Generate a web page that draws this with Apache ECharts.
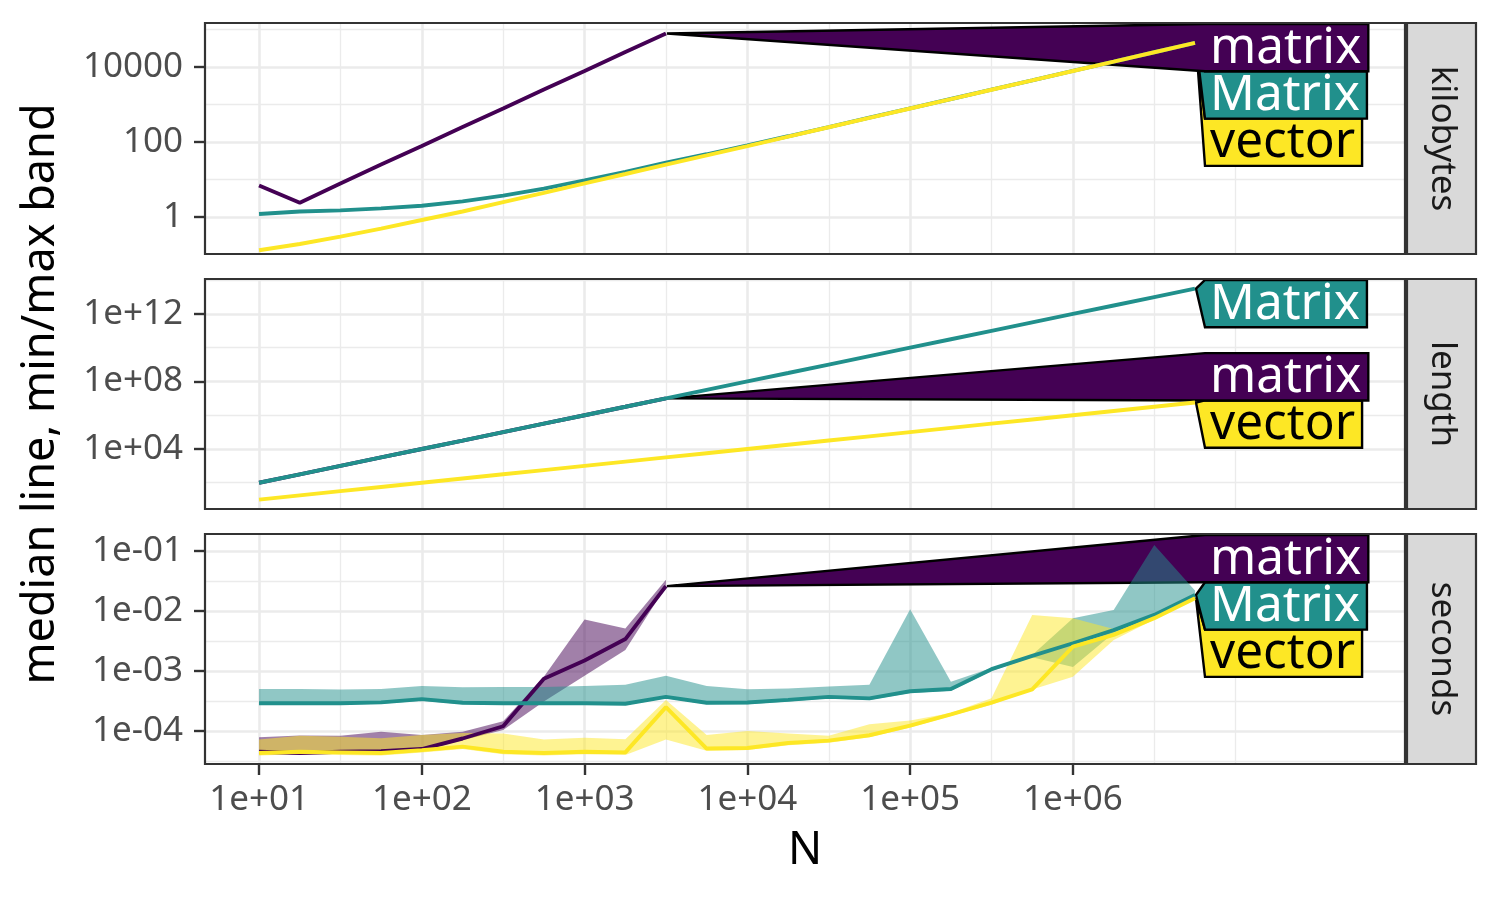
<!DOCTYPE html>
<html><head><meta charset="utf-8">
<script src="https://cdn.jsdelivr.net/npm/echarts@6.0.0/dist/echarts.min.js"></script>
<style>html,body{margin:0;padding:0;background:#fff}#c{width:1500px;height:900px}</style>
</head><body><div id="c"></div>
<script>
// ---------------- data ----------------
const N = [10, 17.8, 31.6, 56.2, 100, 178, 316, 562, 1000, 1780, 3160, 5620, 10000, 17800, 31600, 56200, 100000, 178000, 316000, 562000, 1000000, 1780000, 3160000, 5620000];
const seriesNames = ['matrix', 'Matrix', 'vector'];
const panelNames = ['kilobytes', 'length', 'seconds'];

// kilobytes
const kilobytes_matrix = [6.9, 2.4, 7.8, 25, 78, 250, 780, 2500, 7800, 25000, 78000];
const kilobytes_Matrix = [1.2, 1.4, 1.5, 1.7, 2.0, 2.6, 3.7, 5.7, 9.5, 16, 28, 47, 81, 142, 250, 445, 790, 1400, 2480, 4400, 7830, 13920, 24720, 43920];
const kilobytes_vector = [0.13, 0.19, 0.3, 0.49, 0.83, 1.4, 2.5, 4.4, 7.9, 14, 25, 44, 78, 139, 247, 440, 781, 1390, 2470, 4390, 7810, 13900, 24700, 43900];

// length
const length_matrix = [100, 316, 1000, 3160, 10000, 31600, 100000, 316000, 1000000, 3160000, 10000000];
const length_Matrix = [100, 316, 1000, 3160, 1e4, 3.16e4, 1e5, 3.16e5, 1e6, 3.16e6, 1e7, 3.16e7, 1e8, 3.16e8, 1e9, 3.16e9, 1e10, 3.16e10, 1e11, 3.16e11, 1e12, 3.16e12, 1e13, 3.16e13];
const length_vector = [10, 17.8, 31.6, 56.2, 100, 178, 316, 562, 1000, 1780, 3160, 5620, 10000, 17800, 31600, 56200, 100000, 178000, 316000, 562000, 1000000, 1780000, 3160000, 5620000];

// seconds: median, min, max
const seconds_matrix_median = [4.5e-5, 4.3e-5, 4.5e-5, 4.6e-5, 5.0e-5, 7.5e-5, 1.2e-4, 7.4e-4, 1.5e-3, 3.4e-3, 2.6e-2];
const seconds_matrix_min    = [4.2e-5, 4.1e-5, 4.2e-5, 4.3e-5, 4.7e-5, 7.0e-5, 1.04e-4, 3.1e-4, 8.3e-4, 2.24e-3, 2.55e-2];
const seconds_matrix_max    = [7.9e-5, 8.4e-5, 8.3e-5, 9.7e-5, 8.6e-5, 9.7e-5, 1.45e-4, 8.0e-4, 7.2e-3, 5.1e-3, 3.3e-2];

const seconds_Matrix_median = [2.9e-4, 2.9e-4, 2.9e-4, 3.0e-4, 3.4e-4, 2.95e-4, 2.9e-4, 2.9e-4, 2.9e-4, 2.85e-4, 3.7e-4, 2.96e-4, 2.98e-4, 3.3e-4, 3.7e-4, 3.5e-4, 4.6e-4, 5.0e-4, 1.07e-3, 1.78e-3, 2.9e-3, 4.8e-3, 8.6e-3, 1.85e-2];
const seconds_Matrix_min    = [2.75e-4, 2.75e-4, 2.75e-4, 2.85e-4, 3.2e-4, 2.8e-4, 2.75e-4, 2.75e-4, 2.75e-4, 2.7e-4, 3.5e-4, 2.8e-4, 2.8e-4, 3.1e-4, 3.5e-4, 3.3e-4, 4.3e-4, 4.7e-4, 1.0e-3, 1.7e-3, 1.17e-3, 4.3e-3, 8.0e-3, 1.75e-2];
const seconds_Matrix_max    = [5.0e-4, 5.0e-4, 4.9e-4, 5.0e-4, 5.6e-4, 5.35e-4, 5.4e-4, 5.4e-4, 5.6e-4, 5.9e-4, 8.3e-4, 5.6e-4, 4.95e-4, 5.1e-4, 5.5e-4, 5.9e-4, 1.07e-2, 6.6e-4, 1.12e-3, 1.85e-3, 7.6e-3, 1.04e-2, 1.26e-1, 2.2e-2];

const seconds_vector_median = [4.3e-5, 4.5e-5, 4.4e-5, 4.3e-5, 4.8e-5, 5.5e-5, 4.5e-5, 4.3e-5, 4.5e-5, 4.4e-5, 2.5e-4, 5.1e-5, 5.2e-5, 6.3e-5, 6.9e-5, 8.5e-5, 1.23e-4, 1.9e-4, 2.96e-4, 4.95e-4, 2.54e-3, 4.0e-3, 7.6e-3, 1.63e-2];
const seconds_vector_min    = [3.9e-5, 4.1e-5, 4.0e-5, 3.9e-5, 4.4e-5, 5.0e-5, 4.1e-5, 3.9e-5, 4.1e-5, 4.0e-5, 7.2e-5, 4.7e-5, 4.8e-5, 5.8e-5, 6.4e-5, 7.9e-5, 1.14e-4, 1.77e-4, 2.75e-4, 4.9e-4, 8.0e-4, 3.3e-3, 7.2e-3, 1.55e-2];
const seconds_vector_max    = [7.2e-5, 8.3e-5, 8.0e-5, 7.6e-5, 8.6e-5, 9.3e-5, 9.1e-5, 7.2e-5, 7.7e-5, 7.3e-5, 3.3e-4, 8.6e-5, 1.0e-4, 9.1e-5, 8.3e-5, 1.3e-4, 1.5e-4, 2.0e-4, 3.5e-4, 8.6e-3, 7.6e-3, 5.0e-3, 8.4e-3, 1.75e-2];

// tick positions (log10 units) and labels
const xMajorTicks = [1, 2, 3, 4, 5, 6];
const xMinorTicks = [1.5, 2.5, 3.5, 4.5, 5.5, 6.5, 7];
const xTickLabels = ['1e+01', '1e+02', '1e+03', '1e+04', '1e+05', '1e+06'];
const yMajorTicks = [[0, 2, 4], [4, 8, 12], [-4, -3, -2, -1]];
const yMinorTicks = [[-1, 1, 3, 5], [2, 6, 10, 14], [-4.5, -3.5, -2.5, -1.5]];
const yTickLabels = [['1', '100', '10000'], ['1e+04', '1e+08', '1e+12'], ['1e-04', '1e-03', '1e-02', '1e-01']];

// ---------------- layout & style ----------------
const FONT = 'Noto Sans';
const PANEL_LEFT = 205, PANEL_RIGHT = 1405;
const PANELS = [{ top: 23, bottom: 254 }, { top: 279, bottom: 509 }, { top: 534, bottom: 764 }];
const X_RANGE = [0.668, 8.04];
const Y_RANGES = [[-0.987, 5.173], [0.444, 14.07], [-4.55, -0.717]];
const COLORS = { matrix: '#440154', Matrix: '#21908C', vector: '#FDE725' };
const BAND_COLORS = { matrix: 'rgba(68,1,84,0.5)', Matrix: 'rgba(33,144,140,0.5)', vector: 'rgba(253,231,37,0.5)' };
const LABEL_TEXT = { matrix: '#FFFFFF', Matrix: '#FFFFFF', vector: '#000000' };
const LINE_W = 3.9, MAJOR_GRID_W = 2.6, MINOR_GRID_W = 1.3;

const medians = [
  { matrix: kilobytes_matrix, Matrix: kilobytes_Matrix, vector: kilobytes_vector },
  { matrix: length_matrix, Matrix: length_Matrix, vector: length_vector },
  { matrix: seconds_matrix_median, Matrix: seconds_Matrix_median, vector: seconds_vector_median }
];
const bands = {
  matrix: [seconds_matrix_min, seconds_matrix_max],
  Matrix: [seconds_Matrix_min, seconds_Matrix_max],
  vector: [seconds_vector_min, seconds_vector_max]
};

const lg = Math.log10;
function pairs(vals) { return vals.map((v, i) => [lg(N[i]), lg(v)]); }

const grids = [], xAxes = [], yAxes = [], series = [];
PANELS.forEach((p, pi) => {
  grids.push({ left: PANEL_LEFT, width: PANEL_RIGHT - PANEL_LEFT, top: p.top, height: p.bottom - p.top, show: false });
  const isBottom = pi === 2;
  xAxes.push({
    type: 'value', gridIndex: pi, min: X_RANGE[0], max: X_RANGE[1], position: 'bottom',
    axisLine: { show: false },
    axisTick: { show: isBottom, customValues: xMajorTicks, length: 11, lineStyle: { color: '#333333', width: 2.4 } },
    axisLabel: { show: isBottom, customValues: xMajorTicks, margin: 19, color: '#4D4D4D', fontSize: 35, fontFamily: FONT,
      formatter: v => xTickLabels[xMajorTicks.indexOf(v)] },
    splitLine: { show: true, lineStyle: { color: '#EBEBEB', width: MAJOR_GRID_W } }
  });
  xAxes.push({
    type: 'value', gridIndex: pi, min: X_RANGE[0], max: X_RANGE[1], position: 'top',
    axisLine: { show: false }, axisTick: { show: false, customValues: xMinorTicks },
    axisLabel: { show: false },
    splitLine: { show: true, lineStyle: { color: '#EBEBEB', width: MINOR_GRID_W } }
  });
  yAxes.push({
    type: 'value', gridIndex: pi, min: Y_RANGES[pi][0], max: Y_RANGES[pi][1], position: 'left',
    axisLine: { show: false },
    axisTick: { show: true, customValues: yMajorTicks[pi], length: 11, lineStyle: { color: '#333333', width: 2.4 } },
    axisLabel: { show: true, customValues: yMajorTicks[pi], margin: 22, color: '#4D4D4D', fontSize: 35, fontFamily: FONT,
      formatter: v => yTickLabels[pi][yMajorTicks[pi].indexOf(v)] },
    splitLine: { show: true, lineStyle: { color: '#EBEBEB', width: MAJOR_GRID_W } }
  });
  yAxes.push({
    type: 'value', gridIndex: pi, min: Y_RANGES[pi][0], max: Y_RANGES[pi][1], position: 'right',
    axisLine: { show: false }, axisTick: { show: false, customValues: yMinorTicks[pi] },
    axisLabel: { show: false },
    splitLine: { show: true, lineStyle: { color: '#EBEBEB', width: MINOR_GRID_W } }
  });
});

// min/max bands (seconds panel): one polygon per band, built from the data through api.coord
seriesNames.forEach(name => {
  const [mn, mx] = bands[name];
  series.push({
    type: 'custom', name: name + ' band', xAxisIndex: 4, yAxisIndex: 4, silent: true, z: 2,
    dimensions: ['x', 'lo', 'hi'],
    encode: { x: 0, y: [1, 2] },
    data: mn.map((v, i) => [lg(N[i]), lg(v), lg(mx[i])]),
    renderItem: (params, api) => {
      if (params.dataIndexInside !== 0) return { type: 'group', children: [] };
      const n = params.dataInsideLength;
      const upper = [], lower = [];
      for (let i = 0; i < n; i++) {
        const x = api.value(0, i);
        upper.push(api.coord([x, api.value(2, i)]));
        lower.push(api.coord([x, api.value(1, i)]));
      }
      return {
        type: 'polygon', shape: { points: upper.concat(lower.reverse()) },
        style: { fill: BAND_COLORS[name], stroke: null }
      };
    }
  });
});
// median lines
PANELS.forEach((p, pi) => {
  seriesNames.forEach(name => {
    series.push({
      type: 'line', name: name, xAxisIndex: pi * 2, yAxisIndex: pi * 2,
      data: pairs(medians[pi][name]), symbol: 'none',
      lineStyle: { color: COLORS[name], width: LINE_W }, silent: true, z: 3
    });
  });
});

const chart = echarts.init(document.getElementById('c'), null, { renderer: 'canvas' });
chart.setOption({
  animation: false, backgroundColor: '#FFFFFF',
  grid: grids, xAxis: xAxes, yAxis: yAxes, series: series
});

// ---------------- direct labels ----------------
const LABEL_FONT_SIZE = 49.5;
const ctx = document.createElement('canvas').getContext('2d');
ctx.font = LABEL_FONT_SIZE + 'px "' + FONT + '"';
const BOX_H = 47.3, BOX_L = PANEL_RIGHT - 200, TEXT_X = BOX_L + 5, PAD_R = 7;
const elements = [];

PANELS.forEach((p, pi) => {
  const items = seriesNames.map(name => {
    const vals = medians[pi][name];
    const last = vals.length - 1;
    const tip = chart.convertToPixel({ xAxisIndex: pi * 2, yAxisIndex: pi * 2 }, [lg(N[last]), lg(vals[last])]);
    return { name, tip };
  });
  items.sort((a, b) => a.tip[1] - b.tip[1]);
  const top = p.top + 1, bottom = p.bottom - 1;
  let groups = items.map(it => ({ items: [it] }));
  function groupTop(g) {
    const n = g.items.length;
    const c = g.items.reduce((s, it) => s + it.tip[1], 0) / n;
    let t = c - n * BOX_H / 2;
    if (t < top) t = top;
    if (t + n * BOX_H > bottom) t = bottom - n * BOX_H;
    return t;
  }
  let changed = true;
  while (changed) {
    changed = false;
    for (let i = 0; i < groups.length - 1; i++) {
      const a = groups[i], b = groups[i + 1];
      if (groupTop(a) + a.items.length * BOX_H > groupTop(b) + 0.01) {
        a.items = a.items.concat(b.items); groups.splice(i + 1, 1); changed = true; break;
      }
    }
  }
  groups.forEach(g => { const t = groupTop(g); g.items.forEach((it, j) => { it.boxTop = t + j * BOX_H; }); });
  items.slice().sort((a, b) => b.boxTop - a.boxTop).forEach(it => {
    const w = ctx.measureText(it.name).width;
    const R = TEXT_X + w + PAD_R;
    const t = it.boxTop, b = t + BOX_H;
    elements.push({
      type: 'polygon', z: 1, silent: true,
      shape: { points: [[it.tip[0] + 1, it.tip[1]], [BOX_L, t], [R, t], [R, b], [BOX_L, b]] },
      style: { fill: COLORS[it.name], stroke: '#000000', lineWidth: 2.4, lineJoin: 'miter' }
    });
    elements.push({
      type: 'text', z: 1, silent: true, x: TEXT_X, y: t + BOX_H / 2 + 1,
      style: { text: it.name, fill: LABEL_TEXT[it.name], fontSize: LABEL_FONT_SIZE, fontFamily: FONT,
        align: 'left', verticalAlign: 'middle', textAlign: 'left', textVerticalAlign: 'middle' }
    });
  });
});

// panel borders, strips, titles
PANELS.forEach((p, pi) => {
  elements.push({
    type: 'rect', z: 10, silent: true,
    shape: { x: PANEL_LEFT, y: p.top, width: PANEL_RIGHT - PANEL_LEFT, height: p.bottom - p.top },
    style: { fill: 'none', stroke: '#333333', lineWidth: 2.2 }
  });
  elements.push({
    type: 'rect', z: 10, silent: true,
    shape: { x: PANEL_RIGHT + 2, y: p.top, width: 69, height: p.bottom - p.top },
    style: { fill: '#D9D9D9', stroke: '#333333', lineWidth: 2.2 }
  });
  elements.push({
    type: 'text', z: 11, silent: true, x: PANEL_RIGHT + 2 + 34.5, y: (p.top + p.bottom) / 2, rotation: -Math.PI / 2,
    style: { text: panelNames[pi], fill: '#1A1A1A', fontSize: 35, fontFamily: FONT,
      align: 'center', verticalAlign: 'middle', textAlign: 'center', textVerticalAlign: 'middle' }
  });
});
elements.push({
  type: 'text', z: 11, silent: true, x: 41, y: 394, rotation: Math.PI / 2,
  style: { text: 'median line, min/max band', fill: '#000000', fontSize: 45, fontFamily: FONT,
    align: 'center', verticalAlign: 'middle', textAlign: 'center', textVerticalAlign: 'middle' }
});
elements.push({
  type: 'text', z: 11, silent: true, x: (PANEL_LEFT + PANEL_RIGHT) / 2, y: 851,
  style: { text: 'N', fill: '#000000', fontSize: 45, fontFamily: FONT,
    align: 'center', verticalAlign: 'middle', textAlign: 'center', textVerticalAlign: 'middle' }
});

chart.setOption({ graphic: { elements: elements } });
</script>
</body></html>
